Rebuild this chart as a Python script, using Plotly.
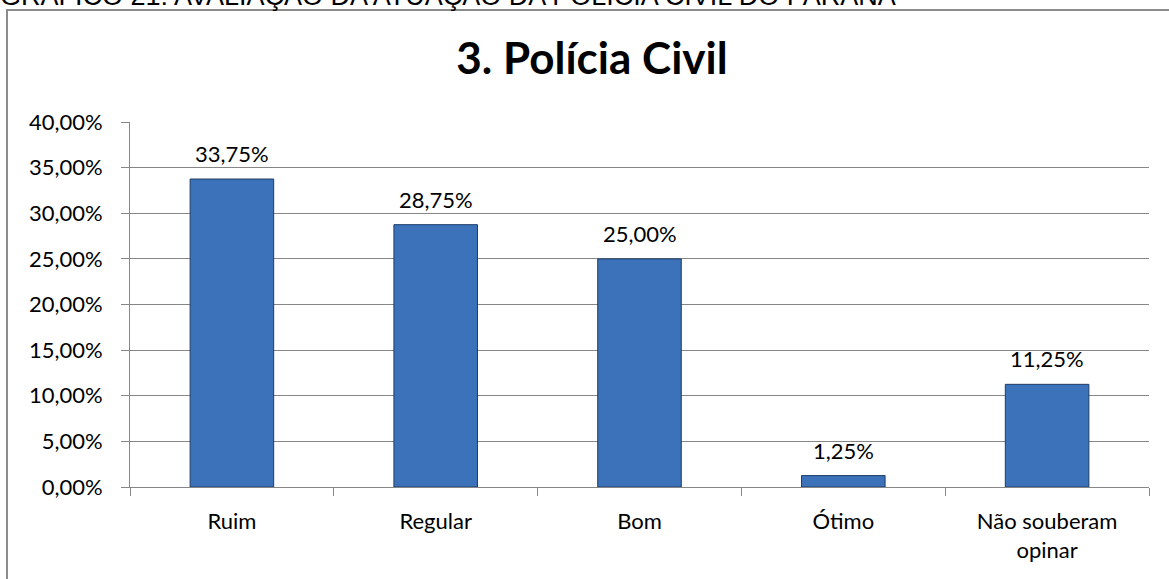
import plotly.graph_objects as go

categories = ["Ruim", "Regular", "Bom", "Ótimo", "Não souberam<br>opinar"]
values = [0.3375, 0.2875, 0.25, 0.0125, 0.1125]
title_text = "3. Polícia Civil"
header_text = "GRÁFICO 21: AVALIAÇÃO DA ATUAÇÃO DA POLÍCIA CIVIL DO PARANÁ"

W, H = 1169, 579
L, R, T, B = 130, 20, 122, 92
pw, ph = W - L - R, H - T - B

def px_x(px):
    return (px - L) / pw

def px_y(py):
    return (H - B - py) / ph

font_main = "Lato, Calibri, Carlito, sans-serif"
FS = 22

fig = go.Figure()
fig.add_trace(go.Bar(
    x=categories, y=values,
    marker=dict(color="#3b72b9", line=dict(color="#1f3c66", width=1)),
    width=0.41,
    hoverinfo="skip",
))

for c, v in zip(categories, values):
    fig.add_annotation(
        x=c, y=v, xref="x", yref="y",
        text=f"{v*100:.2f}".replace(".", ",") + "%",
        showarrow=False, yanchor="bottom", yshift=10,
        font=dict(family=font_main, size=FS, color="#000000"),
    )

# header text (cut at top)
fig.add_annotation(
    x=px_x(-2), y=px_y(-4.5), xref="paper", yref="paper",
    text=header_text, showarrow=False, xanchor="left", yanchor="middle",
    font=dict(family="Liberation Sans, Arial, sans-serif", size=27, color="#000000"),
)

# outer chart border
fig.add_shape(
    type="rect", xref="paper", yref="paper",
    x0=px_x(7), x1=px_x(W + 50), y0=px_y(H + 50), y1=px_y(10),
    line=dict(color="#8c8c8c", width=2), fillcolor="rgba(0,0,0,0)", layer="below",
)

fig.update_layout(
    width=W, height=H,
    margin=dict(l=L, r=R, t=T, b=B),
    paper_bgcolor="white", plot_bgcolor="white",
    separators=",.",
    showlegend=False,
    title=dict(
        text=f"<b>{title_text}</b>", x=592 / W, xref="container", xanchor="center",
        y=1 - 59 / H, yref="container", yanchor="middle",
        font=dict(family=font_main, size=44, color="#000000"),
    ),
    xaxis=dict(
        type="category", tickson="boundaries", ticks="outside", ticklen=8,
        tickcolor="#868686", showline=True, linecolor="#868686", linewidth=1,
        showgrid=False, tickfont=dict(family=font_main, size=FS, color="#000000"),
        range=[-0.5, 4.5], ticklabelstandoff=15,
    ),
    yaxis=dict(
        range=[0, 0.4], tickvals=[0, 0.05, 0.1, 0.15, 0.2, 0.25, 0.3, 0.35, 0.4],
        tickformat=".2%", ticks="outside", ticklen=8, tickcolor="#868686",
        showline=True, linecolor="#868686", linewidth=1,
        showgrid=True, gridcolor="#868686", gridwidth=1, zeroline=False,
        tickfont=dict(family=font_main, size=FS, color="#000000"),
        ticklabelstandoff=14,
    ),
)

fig.write_html("out.html")
